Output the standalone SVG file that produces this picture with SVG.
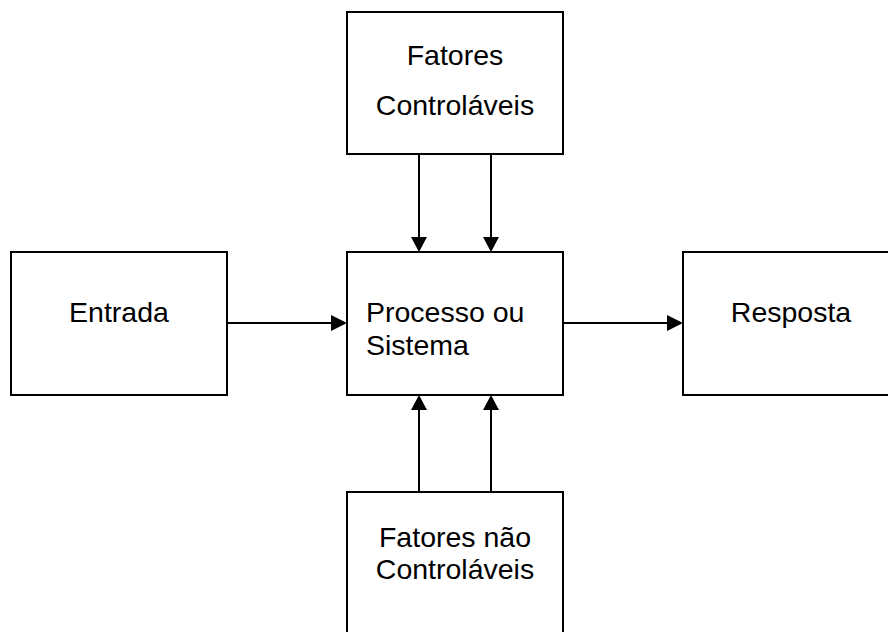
<svg xmlns="http://www.w3.org/2000/svg" width="888" height="632" viewBox="0 0 888 632">
  <style>
    .box { fill: #ffffff; stroke: #000000; stroke-width: 2; }
    .lbl { font-family: "Liberation Sans", Arial, sans-serif; font-size: 28.5px; fill: #000000; }
    .mid { text-anchor: middle; }
    .conn { stroke: #000000; stroke-width: 2; fill: none; }
    .head { fill: #000000; stroke: none; }
  </style>
  <rect width="888" height="632" fill="#ffffff"/>

  <g id="fatores-controlaveis">
    <rect class="box" x="347" y="12" width="216" height="142"/>
    <text class="lbl mid" x="455" y="65">Fatores</text>
    <text class="lbl mid" x="455" y="115">Controláveis</text>
  </g>

  <g id="entrada">
    <rect class="box" x="11" y="252" width="216" height="143"/>
    <text class="lbl mid" x="119" y="322">Entrada</text>
  </g>

  <g id="processo">
    <rect class="box" x="347" y="252" width="216" height="143"/>
    <text class="lbl" x="366" y="322">Processo ou</text>
    <text class="lbl" x="366" y="355">Sistema</text>
  </g>

  <g id="resposta">
    <rect class="box" x="683" y="252" width="216" height="143"/>
    <text class="lbl mid" x="791" y="322">Resposta</text>
  </g>

  <g id="fatores-nao-controlaveis">
    <rect class="box" x="347" y="492" width="216" height="142"/>
    <text class="lbl mid" x="455" y="547">Fatores não</text>
    <text class="lbl mid" x="455" y="579">Controláveis</text>
  </g>

  <g id="connectors">
    <!-- controllable factors into the process -->
    <line class="conn" x1="419" y1="154" x2="419" y2="238"/>
    <polygon class="head" points="411,237 427,237 419,252"/>
    <line class="conn" x1="491" y1="154" x2="491" y2="238"/>
    <polygon class="head" points="483,237 499,237 491,252"/>

    <!-- uncontrollable factors into the process -->
    <line class="conn" x1="419" y1="492" x2="419" y2="409"/>
    <polygon class="head" points="411,410 427,410 419,395"/>
    <line class="conn" x1="491" y1="492" x2="491" y2="409"/>
    <polygon class="head" points="483,410 499,410 491,395"/>

    <!-- input to process -->
    <line class="conn" x1="227" y1="323" x2="333" y2="323"/>
    <polygon class="head" points="331,315 331,331 347,323"/>

    <!-- process to response -->
    <line class="conn" x1="563" y1="323" x2="669" y2="323"/>
    <polygon class="head" points="667,315 667,331 683,323"/>
  </g>
</svg>
